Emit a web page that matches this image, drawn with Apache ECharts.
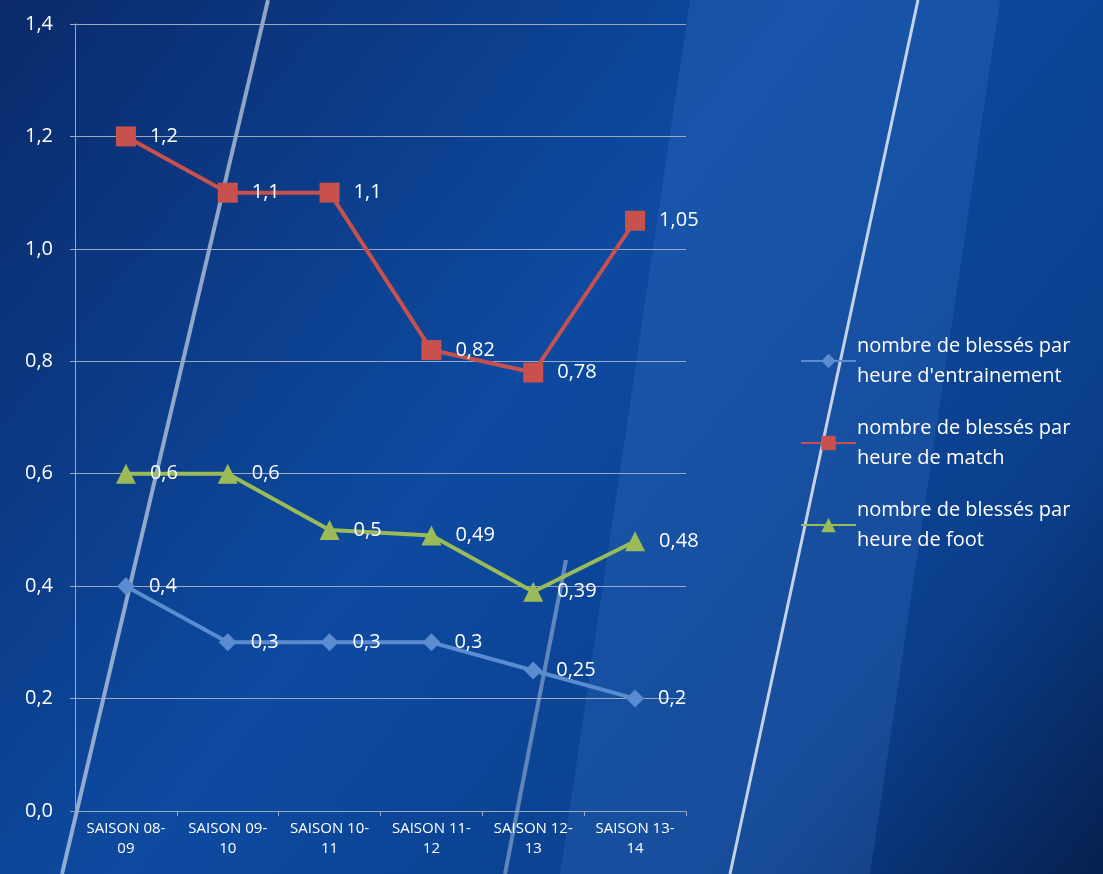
<!DOCTYPE html>
<html><head><meta charset="utf-8">
<script src="https://cdn.jsdelivr.net/npm/echarts@6/dist/echarts.min.js"></script>
<style>html,body{margin:0;padding:0;}#c{width:1103px;height:874px;}</style>
</head><body><div id="c"></div>
<script>
const categories = ['SAISON 08-\n09', 'SAISON 09-\n10', 'SAISON 10-\n11', 'SAISON 11-\n12', 'SAISON 12-\n13', 'SAISON 13-\n14'];
const training = [0.4, 0.3, 0.3, 0.3, 0.25, 0.2];
const match = [1.2, 1.1, 1.1, 0.82, 0.78, 1.05];
const foot = [0.6, 0.6, 0.5, 0.49, 0.39, 0.48];
const names = ['nombre de blessés par\nheure d\'entrainement', 'nombre de blessés par\nheure de match', 'nombre de blessés par\nheure de foot'];

const fmt = v => String(v).replace('.', ',');
const font = '"Open Sans", "Noto Sans", sans-serif';

function mk(name, data, color, symbol, size) {
  return {
    name, type: 'line', data, symbol, symbolSize: size,
    lineStyle: { color, width: 4 }, itemStyle: { color },
    label: { show: true, position: 'right', distance: 14, color: '#fff', fontSize: 20, fontFamily: font, formatter: p => fmt(p.value) }
  };
}

const chart = echarts.init(document.getElementById('c'));
chart.setOption({
  backgroundColor: {
    type: 'linear', x: 0, y: 0, x2: 1, y2: 1,
    colorStops: [{ offset: 0, color: '#0a2a6a' }, { offset: 0.45, color: '#0d4aa0' }, { offset: 0.8, color: '#0b3f8c' }, { offset: 1, color: '#06204f' }]
  },
  graphic: [
    { type: 'line', silent: true, z: -1, shape: { x1: 268, y1: 0, x2: 62, y2: 874 }, style: { stroke: 'rgba(255,255,255,0.55)', lineWidth: 4 } },
    { type: 'line', silent: true, z: -1, shape: { x1: 566, y1: 560, x2: 505, y2: 874 }, style: { stroke: 'rgba(255,255,255,0.35)', lineWidth: 4 } },
    { type: 'line', silent: true, z: -1, shape: { x1: 918, y1: 0, x2: 730, y2: 874 }, style: { stroke: 'rgba(255,255,255,0.75)', lineWidth: 3 } },
    { type: 'polygon', silent: true, z: -2, shape: { points: [[690, 0], [1000, 0], [870, 874], [560, 874]] }, style: { fill: 'rgba(80,140,220,0.18)' } }
  ],
  grid: { left: 75, right: 417, top: 24, bottom: 63 },
  legend: {
    orient: 'vertical', left: 795, top: 326, itemWidth: 55, itemHeight: 18, itemGap: 22,
    textStyle: { color: '#fff', fontSize: 20, fontFamily: font, lineHeight: 30, padding: [0, 0, 0, -4] },
    data: names
  },
  xAxis: {
    type: 'category', data: categories, boundaryGap: true,
    axisLine: { lineStyle: { color: '#9aa8c0' } },
    axisTick: { show: true, lineStyle: { color: '#9aa8c0' } },
    axisLabel: { color: '#fff', fontSize: 15, fontFamily: font, lineHeight: 20, interval: 0 }
  },
  yAxis: {
    type: 'value', min: 0, max: 1.4, interval: 0.2,
    axisLine: { show: true, lineStyle: { color: '#9aa8c0' } },
    axisTick: { show: true, lineStyle: { color: '#9aa8c0' } },
    splitLine: { lineStyle: { color: '#9aa8c0', width: 1 } },
    axisLabel: { color: '#fff', fontSize: 20, fontFamily: font, margin: 22, formatter: v => v.toFixed(1).replace('.', ',') }
  },
  series: [
    mk(names[0], training, '#5b8bd0', 'diamond', 18),
    mk(names[1], match, '#c8504d', 'rect', 20),
    mk(names[2], foot, '#9bbb59', 'triangle', 20)
  ]
});
</script></body></html>
